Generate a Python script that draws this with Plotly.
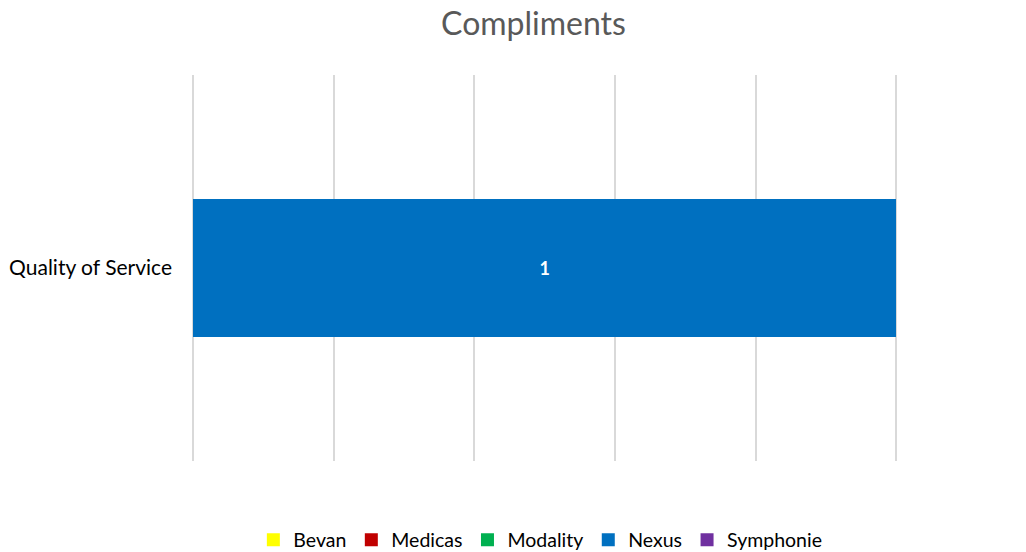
import plotly.graph_objects as go

categories = ["Quality of Service"]
series_names = ["Bevan", "Medicas", "Modality", "Nexus", "Symphonie"]
series_values = [[0], [0], [0], [1], [0]]
series_colors = ["#FFFF00", "#C00000", "#00B050", "#0070C0", "#7030A0"]

fig = go.Figure()
for name, vals, color in zip(series_names, series_values, series_colors):
    labels = [str(v) if v else "" for v in vals]
    fig.add_trace(go.Bar(
        y=categories,
        x=vals,
        name=name,
        legendgroup=name,
        showlegend=False,
        orientation="h",
        marker=dict(color=color, line=dict(width=0)),
        text=labels,
        textposition="inside",
        insidetextanchor="middle",
        textfont=dict(color="white", size=18, family="Lato", weight="bold"),
        hoverinfo="x+name",
    ))

# legend entries with larger square swatches
for name, color in zip(series_names, series_colors):
    fig.add_trace(go.Scatter(
        x=[None], y=[None],
        mode="markers",
        name=name,
        legendgroup=name,
        marker=dict(symbol="square", size=13, color=color),
        hoverinfo="skip",
    ))

fig.update_layout(
    barmode="stack",
    bargap=0.645,
    width=1026,
    height=552,
    margin=dict(l=193, r=127, t=75, b=91, autoexpand=False),
    paper_bgcolor="white",
    plot_bgcolor="white",
    font=dict(family="Lato", color="#000000"),
    title=dict(
        text="Compliments",
        x=0.52, xanchor="center",
        y=0.956, yanchor="middle",
        font=dict(size=32, color="#595959", family="Lato"),
    ),
    xaxis=dict(
        range=[0, 1.004],
        tickvals=[0, 0.2, 0.4, 0.6, 0.8, 1.0],
        showticklabels=False,
        showgrid=True,
        gridcolor="#D9D9D9",
        gridwidth=1.5,
        zeroline=True,
        zerolinecolor="#D9D9D9",
        zerolinewidth=1.5,
        showline=False,
        fixedrange=True,
    ),
    yaxis=dict(
        showgrid=False,
        showline=False,
        ticks="",
        ticklabelstandoff=20,
        tickfont=dict(size=21, color="#000000", family="Lato"),
        fixedrange=True,
    ),
    legend=dict(
        orientation="h",
        x=0.492, xanchor="center",
        y=-0.205, yanchor="middle",
        font=dict(size=19.5, color="#000000", family="Lato"),
        traceorder="normal",
        itemwidth=30,
    ),
    showlegend=True,
)

fig.write_html("out.html")
